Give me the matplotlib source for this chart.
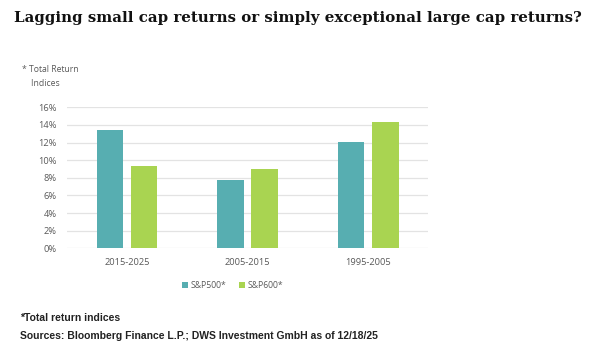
import matplotlib
matplotlib.use("Agg")
import matplotlib.pyplot as plt
import numpy as np
from matplotlib.ticker import FuncFormatter

periods = ["2015-2025", "2005-2015", "1995-2005"]
sp500 = [13.4, 7.7, 12.1]
sp600 = [9.4, 9.05, 14.3]
series_names = ["S&P500*", "S&P600*"]
y_ticks = [0, 2, 4, 6, 8, 10, 12, 14, 16]

teal = "#57AEB1"
green = "#A9D451"
tick_grey = "#595959"

fig = plt.figure(figsize=(5.96, 3.43), dpi=100)
fig.patch.set_facecolor("white")

ax = fig.add_axes([0.112, 0.276, 0.6066, 0.411])
x = np.arange(len(periods))
w = 0.22
off = 0.143
ax.bar(x - off, sp500, width=w, color=teal, label=series_names[0], zorder=3)
ax.bar(x + off, sp600, width=w, color=green, label=series_names[1], zorder=3)

ax.set_xlim(-0.5, len(periods) - 0.5)
ax.set_ylim(0, 16)
ax.set_yticks(y_ticks)
ax.yaxis.set_major_formatter(FuncFormatter(lambda v, p: f"{v:.0f}%"))
ax.set_xticks(x)
ax.set_xticklabels(periods)
ax.grid(axis="y", color="#E3E3E3", linewidth=0.9, zorder=0)
for s in ax.spines.values():
    s.set_visible(False)
ax.tick_params(axis="both", length=0, labelsize=6.7, labelcolor=tick_grey)
ax.tick_params(axis="y", pad=7)
ax.tick_params(axis="x", pad=7)
for lbl in ax.get_xticklabels() + ax.get_yticklabels():
    lbl.set_fontfamily("Open Sans")

leg = fig.legend(loc="center", bbox_to_anchor=(0.39, 0.167), ncol=2, frameon=False,
                 prop={"family": "Open Sans", "size": 6.2}, handlelength=0.7, handleheight=0.7,
                 handletextpad=0.3, columnspacing=1.5, labelcolor=tick_grey)

fig.text(0.5, 0.947, "Lagging small cap returns or simply exceptional large cap returns?",
         ha="center", va="center", fontsize=10.8, fontweight="bold", family="DejaVu Serif",
         color="#111111")

fig.text(0.037, 0.778, "* Total Return\n    Indices", ha="left", va="center", fontsize=6.2,
         family="Open Sans", color=tick_grey, linespacing=1.75)

fig.text(0.034, 0.073, "*Total return indices", ha="left", va="center", fontsize=7.5,
         fontweight="bold", family="Liberation Sans", color="#222222")
fig.text(0.034, 0.021, "Sources: Bloomberg Finance L.P.; DWS Investment GmbH as of 12/18/25",
         ha="left", va="center", fontsize=7.5, fontweight="bold", family="Liberation Sans",
         color="#222222")

fig.savefig("out.png", dpi=100)
